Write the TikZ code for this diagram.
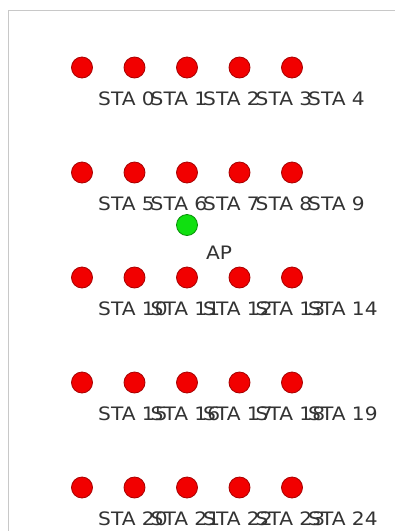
\documentclass[tikz,border=0pt]{standalone}
\usepackage{fontspec}
\newfontfamily\stafont[FakeStretch=1.09]{DejaVu Sans}
\definecolor{stared}{HTML}{F20000}
\definecolor{staedge}{HTML}{A80000}
\definecolor{apgreen}{HTML}{10E010}
\definecolor{apedge}{HTML}{089008}
\definecolor{labgray}{HTML}{333333}
\definecolor{framegray}{HTML}{C8C8C8}
\begin{document}
\begin{tikzpicture}[x=1pt,y=-1pt,
  sta/.style={circle,fill=stared,draw=staedge,line width=0.8pt,minimum size=21pt,inner sep=0pt},
  apnode/.style={circle,fill=apgreen,draw=apedge,line width=0.8pt,minimum size=21pt,inner sep=0pt},
  stalab/.style={anchor=base west,inner sep=0pt,text=labgray,font=\stafont\fontsize{18.5}{20}\selectfont}]
\useasboundingbox (0,0) rectangle (395,531);
\fill[white] (0,0) rectangle (395,531);
\coordinate (fa) at (8,531);
\coordinate (fb) at (8,10);
\coordinate (fc) at (395,10);
\draw[framegray,line width=1pt] (fa) -- (fb) -- (fc);
\foreach \r in {0,...,4}{
  \foreach \c in {0,...,4}{
    \pgfmathtruncatemacro{\n}{5*\r+\c}
    \node[sta] (sta\n) at ({82+52.5*\c},{67.5+105*\r}) {};
    \node[stalab] (lab\n) at ([xshift=16pt,yshift=-38pt]sta\n.center) {STA \n};
  }
}
\node[apnode] (ap) at (187,225) {};
\node[stalab] (aplab) at ([xshift=19pt,yshift=-34pt]ap.center) {AP};
\end{tikzpicture}
\end{document}
